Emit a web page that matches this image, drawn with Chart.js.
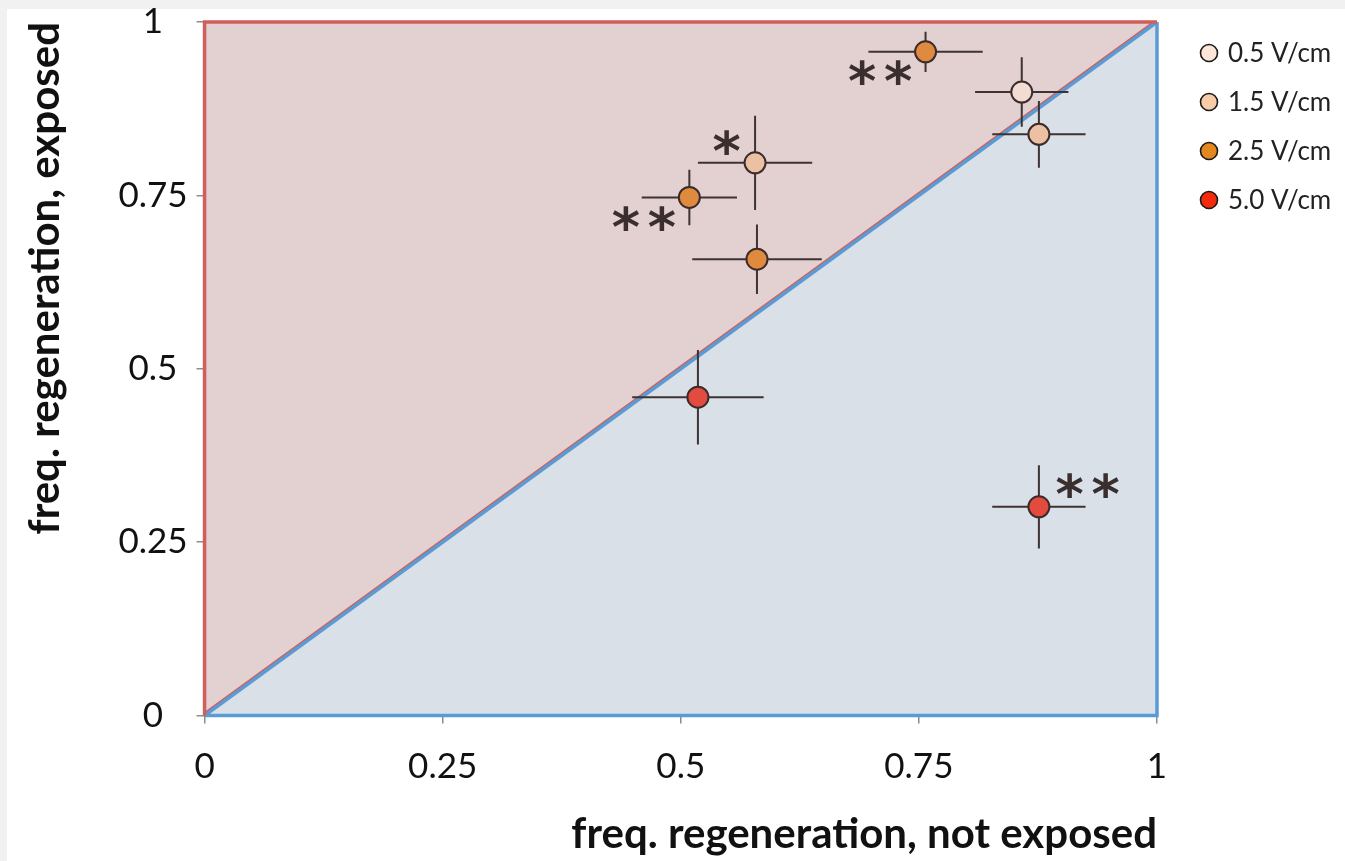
<!DOCTYPE html>
<html><head><meta charset="utf-8">
<script src="https://cdn.jsdelivr.net/npm/chart.js@4.4.0/dist/chart.umd.min.js"></script>
<style>
html,body{margin:0;padding:0;background:#f1f1f1;overflow:hidden}
#paper{position:absolute;left:7px;top:9px;width:1338px;height:852px;background:#fff}
#c{position:absolute;left:0;top:-8px}
</style></head><body>
<div id="paper"></div>
<canvas id="c" width="1345" height="869"></canvas>
<script>
// ---- data ----
const seriesNames = ['0.5 V/cm', '1.5 V/cm', '2.5 V/cm', '5.0 V/cm'];
const s05_x = [0.858];               const s05_y = [0.899];
const s05_xerr = [0.049];            const s05_yerr = [0.050];
const s05_sig = [''];
const s15_x = [0.578, 0.876];        const s15_y = [0.797, 0.838];
const s15_xerr = [0.060, 0.049];     const s15_yerr = [0.068, 0.048];
const s15_sig = ['*', ''];
const s25_x = [0.757, 0.509, 0.580]; const s25_y = [0.957, 0.747, 0.658];
const s25_xerr = [0.060, 0.050, 0.068]; const s25_yerr = [0.029, 0.040, 0.050];
const s25_sig = ['**', '**', ''];
const s50_x = [0.518, 0.876];        const s50_y = [0.459, 0.301];
const s50_xerr = [0.069, 0.049];     const s50_yerr = [0.068, 0.060];
const s50_sig = ['', '**'];
const tickValues = [0, 0.25, 0.5, 0.75, 1];
const tickLabels = ['0', '0.25', '0.5', '0.75', '1'];
const xTitle = 'freq. regeneration, not exposed';
const yTitle = 'freq. regeneration, exposed';

// ---- styles ----
const markerColors = ['#f2dcd4', '#ecc0a2', '#df8a3e', '#e34b3f'];
const legendColors = ['#fce6d8', '#f8cba9', '#e3871f', '#f52a0c'];
// where the significance stars sit relative to their point
const starPlacement = { '1-0': 'above-left', '2-0': 'below-left', '2-1': 'below-left', '3-1': 'above-right' };

const series = [
  {x: s05_x, y: s05_y, xe: s05_xerr, ye: s05_yerr, sig: s05_sig},
  {x: s15_x, y: s15_y, xe: s15_xerr, ye: s15_yerr, sig: s15_sig},
  {x: s25_x, y: s25_y, xe: s25_xerr, ye: s25_yerr, sig: s25_sig},
  {x: s50_x, y: s50_y, xe: s50_xerr, ye: s50_yerr, sig: s50_sig},
];

const datasets = [];
series.forEach((s, i) => {
  datasets.push({
    label: seriesNames[i], type: 'scatter', order: 0,
    data: s.x.map((v, k) => ({x: v, y: s.y[k]})),
    pointRadius: 10.5, pointBackgroundColor: markerColors[i],
    pointBorderColor: '#3b2b2b', pointBorderWidth: 2, showLine: false
  });
});
series.forEach((s, i) => {
  s.x.forEach((v, k) => {
    const y = s.y[k];
    datasets.push({ label: '_eb', type: 'scatter', order: 1, showLine: true, pointRadius: 0,
      borderColor: '#3d3333', borderWidth: 2,
      data: [{x: v - s.xe[k], y: y}, {x: v + s.xe[k], y: y}] });
    datasets.push({ label: '_eb', type: 'scatter', order: 1, showLine: true, pointRadius: 0,
      borderColor: '#3d3333', borderWidth: 2,
      data: [{x: v, y: y - s.ye[k]}, {x: v, y: y + s.ye[k]}] });
  });
});
// region frames and fills (x = y diagonal split)
datasets.push({ label: '_frameRed', type: 'scatter', order: 2, showLine: true, pointRadius: 0, clip: 6,
  borderColor: '#cf5f58', borderWidth: 3.5,
  data: [{x: 0, y: 0}, {x: 0, y: 1}, {x: 1, y: 1}] });
datasets.push({ label: '_frameBlue', type: 'scatter', order: 2, showLine: true, pointRadius: 0, clip: 6,
  borderColor: '#5b9bd5', borderWidth: 3.5,
  data: [{x: 0, y: 0}, {x: 1, y: 0}, {x: 1, y: 1}] });
datasets.push({ label: '_diagBlue', type: 'scatter', order: 3, showLine: true, pointRadius: 0,
  borderColor: '#5b9bd5', borderWidth: 3.5, fill: 'start', backgroundColor: '#d9e0e7',
  data: [{x: 0, y: 0}, {x: 1, y: 1}] });
datasets.push({ label: '_diagRed', type: 'scatter', order: 4, showLine: true, pointRadius: 0,
  borderColor: '#cf5f58', borderWidth: 6, fill: 'end', backgroundColor: '#e3d0d1',
  data: [{x: 0, y: 0}, {x: 1, y: 1}] });

const starsPlugin = {
  id: 'stars',
  afterDatasetsDraw(chart) {
    const ctx = chart.ctx;
    const xs = chart.scales.x, ys = chart.scales.y;
    ctx.save();
    ctx.fillStyle = '#3a2e2e';
    ctx.font = 'bold 54px "DejaVu Sans"';
    ctx.textAlign = 'left';
    ctx.textBaseline = 'alphabetic';
    const m = ctx.measureText('*');
    const gw = m.actualBoundingBoxRight + m.actualBoundingBoxLeft;
    const gh = m.actualBoundingBoxAscent + m.actualBoundingBoxDescent;
    const drawStar = (cx, cy) => {
      ctx.fillText('*', cx - gw / 2 + m.actualBoundingBoxLeft, cy - gh / 2 + m.actualBoundingBoxAscent);
    };
    const gap = 36;
    series.forEach((s, i) => {
      s.sig.forEach((txt, k) => {
        if (!txt) return;
        const px = xs.getPixelForValue(s.x[k]);
        const py = ys.getPixelForValue(s.y[k]);
        const n = txt.length;
        const place = starPlacement[i + '-' + k];
        for (let j = 0; j < n; j++) {
          let cx, cy;
          if (place === 'below-left') { cx = px - 27 - (n - 1 - j) * gap; cy = py + 21; }
          else if (place === 'above-left') { cx = px - 28 - (n - 1 - j) * gap; cy = py - 20; }
          else { cx = px + 31 + j * gap; cy = py - 21; }
          drawStar(cx, cy);
        }
      });
    });
    ctx.restore();
  }
};

const legendPlugin = {
  id: 'sideLegend',
  afterDraw(chart) {
    const ctx = chart.ctx, a = chart.chartArea;
    ctx.save();
    ctx.font = '26px Lato';
    ctx.textBaseline = 'middle';
    ctx.textAlign = 'left';
    seriesNames.forEach((name, i) => {
      const cx = a.right + 52, cy = a.top + 31 + i * 49;
      ctx.beginPath();
      ctx.arc(cx, cy, 8.5, 0, Math.PI * 2);
      ctx.fillStyle = legendColors[i];
      ctx.fill();
      ctx.lineWidth = 1.6;
      ctx.strokeStyle = '#1a1a1a';
      ctx.stroke();
      ctx.fillStyle = '#222';
      ctx.fillText(name, cx + 19, cy + 1);
    });
    ctx.restore();
  }
};

const tickFont = {family: 'Lato', size: 35};
const titleFont = {family: 'Lato', size: 42, weight: 'bold'};
const tickLabel = (v) => { const i = tickValues.indexOf(v); return i >= 0 ? tickLabels[i] : ''; };

new Chart(document.getElementById('c'), {
  type: 'scatter',
  data: { datasets },
  plugins: [starsPlugin, legendPlugin],
  options: {
    responsive: false, animation: false, devicePixelRatio: 1,
    layout: { padding: { left: 0, top: 16, right: 188, bottom: 0 } },
    plugins: { legend: { display: false }, tooltip: { enabled: false } },
    scales: {
      x: {
        type: 'linear', min: 0, max: 1,
        afterBuildTicks: (sc) => { sc.ticks = tickValues.map(v => ({value: v})); },
        ticks: { font: tickFont, color: '#111', padding: 22, maxRotation: 0, callback: tickLabel },
        grid: { display: true, drawOnChartArea: false, drawTicks: true, tickLength: 8, color: '#8c8c8c', lineWidth: 1.5 },
        border: { display: true, color: '#7a7a7a', width: 2 },
        title: { display: true, text: xTitle, align: 'end', font: titleFont, color: '#111', padding: {top: 0, bottom: 1} }
      },
      y: {
        type: 'linear', min: 0, max: 1,
        afterBuildTicks: (sc) => { sc.ticks = tickValues.map(v => ({value: v})); },
        ticks: { font: tickFont, color: '#111', padding: 9, crossAlign: 'center', callback: tickLabel },
        grid: { display: true, drawOnChartArea: false, drawTicks: true, tickLength: 8, color: '#8c8c8c', lineWidth: 1.5 },
        border: { display: true, color: '#7a7a7a', width: 2 },
        title: { display: true, text: yTitle, align: 'end', font: titleFont, color: '#111', padding: {top: 20, bottom: 39} }
      }
    }
  }
});
</script>
</body></html>
